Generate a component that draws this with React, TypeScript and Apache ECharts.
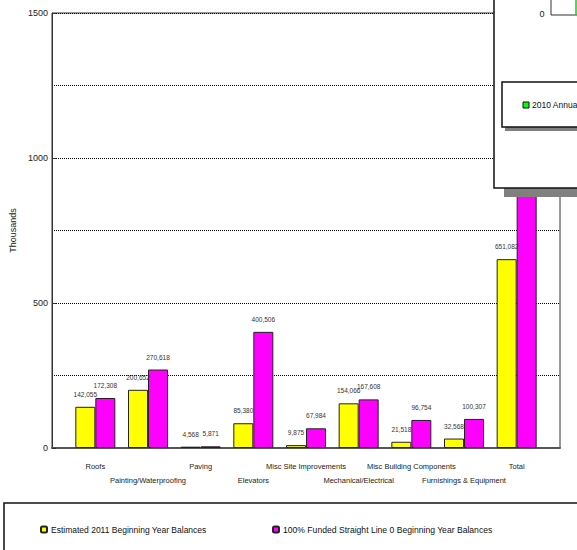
import React, { useEffect, useRef } from "react";
import * as echarts from "echarts";

const categories = [
  "Roofs",
  "Painting/Waterproofing",
  "Paving",
  "Elevators",
  "Misc Site Improvements",
  "Mechanical/Electrical",
  "Misc Building Components",
  "Furnishings & Equipment",
  "Total",
];
const estimated2011 = [142055, 200652, 4568, 85380, 9875, 154066, 21518, 32568, 651082];
const funded100 = [172308, 270618, 5871, 400506, 67984, 167608, 96754, 100307, 1281956];
const yTicks = [0, 500, 1000, 1500];
const seriesNames = [
  "Estimated 2011 Beginning Year Balances",
  "100% Funded Straight Line 0 Beginning Year Balances",
];

const SANS = "'Liberation Sans', Arial, sans-serif";

export default function App() {
  const ref = useRef<HTMLDivElement>(null);
  useEffect(() => {
    if (!ref.current) return;
    const chart = echarts.init(ref.current, undefined, { renderer: "svg" });
    const fmt = (v: number) => v.toLocaleString("en-US");
    const labelCfg = {
      show: true,
      position: "top" as const,
      distance: 9,
      fontFamily: SANS,
      fontSize: 6.5,
      color: "#333",
      formatter: (p: any) => fmt(Math.round(p.value * 1000)),
    };
    chart.setOption({
      animation: false,
      backgroundColor: "#fff",
      grid: [
        { left: 52, top: 13, width: 508, height: 435, show: true, borderColor: "#333", borderWidth: 1, backgroundColor: "transparent" },
        { left: 69, top: 13, width: 474, height: 435 },
      ],
      xAxis: [
        {
          gridIndex: 0,
          type: "value",
          min: 0,
          max: 1,
          axisLine: { show: true, onZero: false, lineStyle: { color: "#555", width: 2 } },
          axisTick: { show: false },
          axisLabel: { show: false },
          splitLine: { show: false },
        },
        {
          gridIndex: 1,
          type: "category",
          data: categories,
          axisLine: { show: false },
          axisTick: { show: false },
          axisLabel: {
            interval: 0,
            margin: 11,
            fontFamily: SANS,
            fontSize: 7.5,
            color: "#222",
            lineHeight: 14,
            verticalAlign: "top",
            formatter: (v: string, i: number) => (i % 2 === 0 ? v : "\n" + v),
          },
        },
      ],
      yAxis: [
        {
          gridIndex: 0,
          type: "value",
          min: 0,
          max: 1500,
          interval: 500,
          name: "Thousands",
          nameLocation: "middle",
          nameGap: 28,
          nameTextStyle: { fontFamily: SANS, fontSize: 9, color: "#222" },
          axisLine: { show: true, lineStyle: { color: "#333", width: 1 } },
          axisTick: { show: true, inside: true, length: 4, lineStyle: { color: "#333" } },
          axisLabel: {
            margin: 4,
            fontFamily: SANS,
            fontSize: 9,
            color: "#222",
            formatter: (v: number) => (yTicks.includes(v) ? String(v) : ""),
          },
          splitLine: { show: true, lineStyle: { type: "dotted", color: "#000", width: 1 } },
          minorTick: { show: false, splitNumber: 2 },
          minorSplitLine: { show: true, lineStyle: { type: "dotted", color: "#000", width: 1 } },
        },
        {
          gridIndex: 1,
          type: "value",
          min: 0,
          max: 1500,
          show: false,
          splitLine: { show: false },
        },
      ],
      legend: [
        {
          data: [seriesNames[0]],
          left: 35,
          top: 520,
          itemWidth: 6,
          itemHeight: 6,
          textStyle: { fontFamily: SANS, fontSize: 8.5, color: "#111", padding: [0, 0, 0, -1] },
        },
        {
          data: [seriesNames[1]],
          left: 267,
          top: 520,
          itemWidth: 6,
          itemHeight: 6,
          textStyle: { fontFamily: SANS, fontSize: 8.6, color: "#111", padding: [0, 0, 0, -1] },
        },
      ],
      series: [
        {
          name: seriesNames[0],
          type: "bar",
          xAxisIndex: 1,
          yAxisIndex: 1,
          data: estimated2011.map((v) => v / 1000),
          barWidth: 20,
          barGap: "0%",
          itemStyle: { color: "#FFFF00", borderColor: "#222", borderWidth: 1 },
          label: labelCfg,
        },
        {
          name: seriesNames[1],
          type: "bar",
          xAxisIndex: 1,
          yAxisIndex: 1,
          data: funded100.map((v) => v / 1000),
          barWidth: 20,
          barGap: "0%",
          itemStyle: { color: "#FF00FF", borderColor: "#222", borderWidth: 1 },
          label: labelCfg,
        },
      ],
      graphic: [
        { type: "rect", z: 100, shape: { x: 4, y: 503, width: 600, height: 60 }, style: { fill: "none", stroke: "#111", lineWidth: 1.5 } },
        { type: "rect", z: 100, shape: { x: 504, y: 0, width: 80, height: 197 }, style: { fill: "#808080" } },
        { type: "rect", z: 101, shape: { x: 494, y: -10, width: 100, height: 198 }, style: { fill: "#fff", stroke: "#111", lineWidth: 1.5 } },
        { type: "text", z: 102, style: { x: 542, y: 14, text: "0", fontFamily: SANS, fontSize: 9, fill: "#222", align: "center", verticalAlign: "middle" } },
        { type: "rect", z: 102, shape: { x: 551, y: -5, width: 40, height: 20 }, style: { fill: "#fff", stroke: "#333", lineWidth: 1 } },
        { type: "line", z: 103, shape: { x1: 576, y1: 0, x2: 576, y2: 15 }, style: { stroke: "#00DD00", lineWidth: 1.5 } },
        { type: "rect", z: 102, shape: { x: 505, y: 86, width: 80, height: 45 }, style: { fill: "#808080" } },
        { type: "rect", z: 103, shape: { x: 502, y: 82, width: 80, height: 45 }, style: { fill: "#fff", stroke: "#111", lineWidth: 1.5 } },
        { type: "rect", z: 104, shape: { x: 523, y: 102, width: 6, height: 6 }, style: { fill: "#00FF00", stroke: "#111", lineWidth: 1 } },
        { type: "text", z: 104, style: { x: 532, y: 105, text: "2010 Annua", fontFamily: SANS, fontSize: 8.5, fill: "#111", verticalAlign: "middle" } },
      ],
    });
    return () => chart.dispose();
  }, []);
  return <div ref={ref} style={{ position: "absolute", left: 0, top: 0, width: 577, height: 550 }} />;
}
